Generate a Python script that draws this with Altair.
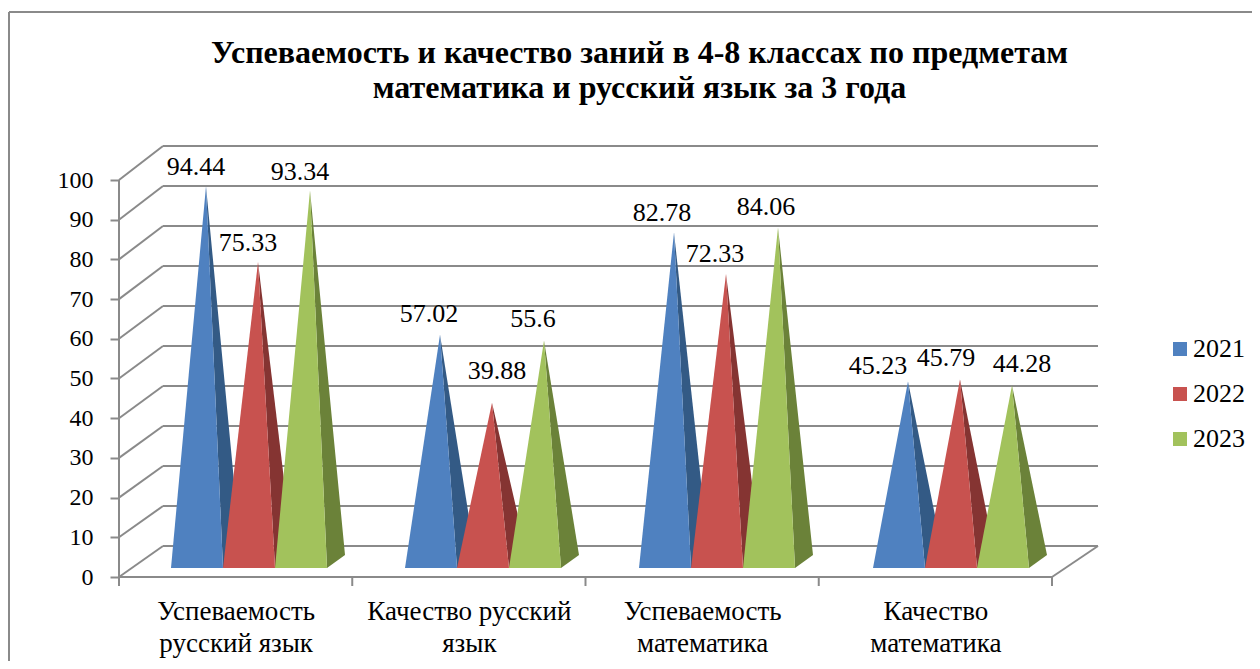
import json
import altair as alt
import pandas as pd

# --- chart values -----------------------------------------------------------
categories = [
    ["Успеваемость", "русский язык"],
    ["Качество русский", "язык"],
    ["Успеваемость", "математика"],
    ["Качество", "математика"],
]
years = ["2021", "2022", "2023"]
values_2021 = [94.44, 57.02, 82.78, 45.23]
values_2022 = [75.33, 39.88, 72.33, 45.79]
values_2023 = [93.34, 55.6, 84.06, 44.28]
y_ticks = [0, 10, 20, 30, 40, 50, 60, 70, 80, 90, 100]
title_lines = [
    "Успеваемость и качество заний в 4-8 классах по предметам",
    "математика и русский язык за 3 года",
]
front_colors = ["#4f81c0", "#c8524f", "#a2c25c"]
side_colors = ["#335a85", "#853432", "#6b8239"]

# --- 3-D drawing constants (axis units) --------------------------------------
PX_X = 233.25          # pixels per category
PX_Y = 3.97            # pixels per value unit
W, H = 979, 431
X_MAX = W / PX_X
Y_MAX = H / PX_Y
DEPTH_X = 44 / PX_X    # wall offset
DEPTH_Y = 7.8
CAT_START, CAT_STEP = 52 / PX_X, 234 / PX_X
FACE = 52 / PX_X
APEX_DX = 35 / PX_X
BACK_DX = 70 / PX_X
BASE_Y = 2.27
BACK_Y = 5.54
APEX_SHIFT = 4.0
# label nudges in px (dx, up) relative to the apex
label_nudges = [
    [(-10, 11), (-10, 11), (-10, 11)],
    [(-11, 13), (5, 24), (-11, 13)],
    [(-12, 11), (-11, 12), (-12, 12)],
    [(-30, 8), (-14, 13), (10, 13)],
]

series = [values_2021, values_2022, values_2023]
front_rows, side_rows, label_rows = [], [], []
for c in range(len(categories)):
    for s, year in enumerate(years):
        v = series[s][c]
        left = CAT_START + c * CAT_STEP + s * FACE
        right = left + FACE
        apex_x = left + APEX_DX
        back_x = left + BACK_DX
        top = v + APEX_SHIFT
        pid = f"{c}-{s}"
        front_rows += [
            dict(id=pid, year=year, x=left, y=BASE_Y, y2=BASE_Y),
            dict(id=pid, year=year, x=apex_x, y=top, y2=BASE_Y),
            dict(id=pid, year=year, x=right, y=BASE_Y, y2=BASE_Y),
        ]
        t = (right - apex_x) / (back_x - apex_x)
        side_rows += [
            dict(id=pid, col=side_colors[s], x=apex_x, y=top, y2=top),
            dict(id=pid, col=side_colors[s], x=right, y=top + (BACK_Y - top) * t, y2=BASE_Y),
            dict(id=pid, col=side_colors[s], x=back_x, y=BACK_Y, y2=BACK_Y),
        ]
        ndx, nup = label_nudges[c][s]
        label_rows.append(dict(x=apex_x + ndx / PX_X, y=top + nup / PX_Y, label=str(v)))

wall = lambda k: DEPTH_Y + k * (Y_MAX - DEPTH_Y) / 100
wall_rows = [dict(x=DEPTH_X, x2=X_MAX, y=wall(k)) for k in y_ticks]
diag_rows = []
for k in y_ticks:
    diag_rows += [dict(id=f"l{k}", x=0, y=k), dict(id=f"l{k}", x=DEPTH_X, y=wall(k))]
diag_rows += [dict(id="r", x=4, y=0), dict(id="r", x=X_MAX, y=DEPTH_Y)]

x_scale = alt.Scale(domain=[0, X_MAX], nice=False, zero=False)
y_scale = alt.Scale(domain=[0, Y_MAX], nice=False, zero=False)
FONT = "Liberation Serif"
GREY = "#8a8a8a"
LW = 2

x_label_expr = "%s[floor(datum.value)]" % json.dumps(categories, ensure_ascii=False)
x_axis = alt.Axis(
    values=[0.5, 1.5, 2.5, 3.5], ticks=False, domain=False, grid=False,
    labelExpr=x_label_expr, labelFont=FONT, labelFontSize=27, labelColor="#000000", labelLimit=400,
    labelPadding=21, labelLineHeight=32, labelOverlap=False, labelFlush=False, labelBound=False)
y_axis = alt.Axis(
    values=y_ticks, domain=False, grid=False, tickColor=GREY, tickWidth=LW, tickSize=9,
    labelFont=FONT, labelFontSize=24, labelColor="#000000", labelPadding=17, labelOverlap=False)
X_PLAIN = alt.X("x:Q", scale=x_scale, title=None, axis=x_axis)
Y_PLAIN = alt.Y("y:Q", scale=y_scale, title=None, axis=y_axis)

walls = alt.Chart(pd.DataFrame(wall_rows)).mark_rule(color=GREY, strokeWidth=LW).encode(
    x=X_PLAIN, x2="x2:Q", y=Y_PLAIN)
diags = alt.Chart(pd.DataFrame(diag_rows)).mark_line(color=GREY, strokeWidth=LW).encode(
    x=X_PLAIN, y=Y_PLAIN, detail="id:N")
floor = alt.Chart(pd.DataFrame({"x": [0], "x2": [4], "y": [0]})).mark_rule(color=GREY, strokeWidth=LW).encode(
    x=X_PLAIN, x2="x2:Q", y=Y_PLAIN)
y_line = alt.Chart(pd.DataFrame({"x": [0], "y": [0], "y2": [100]})).mark_rule(color=GREY, strokeWidth=LW).encode(
    x=X_PLAIN, y=Y_PLAIN, y2="y2:Q")
x_ticks = alt.Chart(pd.DataFrame({"x": [0, 1, 2, 3, 4]})).mark_rule(color=GREY, strokeWidth=LW).encode(
    x=X_PLAIN, y=alt.value(H), y2=alt.value(H + 9))
frame_top = alt.Chart(pd.DataFrame({"a": [0]})).mark_rule(color=GREY, strokeWidth=LW).encode(
    x=alt.value(-110), x2=alt.value(1133), y=alt.value(-134))
frame_left = alt.Chart(pd.DataFrame({"a": [0]})).mark_rule(color=GREY, strokeWidth=LW).encode(
    x=alt.value(-110), y=alt.value(-134), y2=alt.value(523))

sides = alt.Chart(pd.DataFrame(side_rows)).mark_area(opacity=1).encode(
    x=X_PLAIN, y=Y_PLAIN, y2="y2:Q", detail="id:N",
    color=alt.Color("col:N", scale=None, legend=None))
fronts = alt.Chart(pd.DataFrame(front_rows)).mark_area(opacity=1).encode(
    x=X_PLAIN, y=Y_PLAIN, y2="y2:Q", detail="id:N",
    fill=alt.Fill("year:N", scale=alt.Scale(domain=years, range=front_colors),
                  legend=alt.Legend(title=None, orient="none", legendX=1048, legendY=190,
                                    symbolType="square", symbolSize=196, symbolOpacity=1,
                                    symbolStrokeWidth=0, labelFont=FONT, labelFontSize=26,
                                    labelColor="#000000", rowPadding=19, labelOffset=0)))
labels = alt.Chart(pd.DataFrame(label_rows)).mark_text(
    font=FONT, fontSize=26, color="#000000", baseline="alphabetic", align="center"
).encode(x=X_PLAIN, y=Y_PLAIN, text="label:N")

chart = alt.layer(
    frame_top, frame_left, walls, diags, floor, y_line, x_ticks, sides, fronts, labels
).properties(
    width=W, height=H,
    padding={"left": 111, "top": 138, "right": 154, "bottom": 84},
    autosize=alt.AutoSizeParams(type="none"),
    background="#ffffff",
    title=alt.TitleParams(text=title_lines, font=FONT, fontSize=32, fontWeight="bold",
                          color="#000000", anchor="middle", dx=31, offset=-94, lineHeight=35),
).configure_view(stroke=None)

chart.save("out.html", embed_options={"renderer": "svg", "actions": False})
